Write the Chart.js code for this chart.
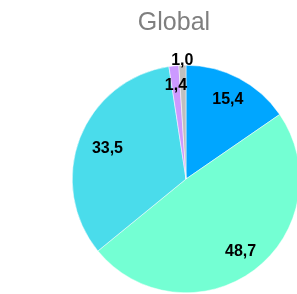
<!DOCTYPE html>
<html>
<head>
<meta charset="utf-8">
<script src="https://cdn.jsdelivr.net/npm/chart.js@4"></script>
<style>
  html, body { margin: 0; padding: 0; background: #fff; overflow: hidden; }
  #wrap { width: 297px; height: 294px; overflow: hidden; }
</style>
</head>
<body>
<div id="wrap"><canvas id="pie" width="346" height="310"></canvas></div>
<script>
// values, clockwise from the top
const categories = ['A', 'B', 'C', 'D', 'E'];
const shares = [15.4, 48.7, 33.5, 1.4, 1.0];
const sliceColors = ['#00a6ff', '#74ffd3', '#4adceb', '#cc99ff', '#bfbfbf'];
const chartTitle = 'Global';

// how far out each label sits (fraction of the radius)
const labelR = [0.79, 0.8, 0.74, 0.83, 1.04];

// title sits left of the pie centre, so it is drawn by hand
const titlePlugin = {
    id: 'titlePlugin',
    afterDraw(chart) {
        let ctx = chart.ctx;
        ctx.save();
        ctx.font = '25px "Liberation Sans", Arial, sans-serif';
        ctx.fillStyle = '#7f7f7f';
        ctx.textAlign = 'center';
        ctx.textBaseline = 'alphabetic';
        ctx.fillText(chartTitle, 174, 30);
        ctx.restore();
    }
};

const pieLabels = {
    id: 'pieLabels',
    afterDatasetsDraw(chart) {
        let ctx = chart.ctx;
        let meta = chart.getDatasetMeta(0);
        ctx.save();
        ctx.font = 'bold 16px "Liberation Sans", Arial, sans-serif';
        ctx.fillStyle = '#000';
        ctx.textAlign = 'center';
        ctx.textBaseline = 'middle';
        meta.data.forEach(function (arc, i) {
            let p = arc.getProps(['x', 'y', 'startAngle', 'endAngle', 'outerRadius'], true);
            let a = (p.startAngle + p.endAngle) / 2;
            let r = p.outerRadius * labelR[i];
            let txt = shares[i].toFixed(1).replace('.', ',');
            ctx.fillText(txt, p.x + Math.cos(a) * r, p.y + Math.sin(a) * r);
        });
        ctx.restore();
    }
};

let ctx = document.getElementById('pie').getContext('2d');
new Chart(ctx, {
    type: 'pie',
    data: {
        labels: categories,
        datasets: [{
            data: shares,
            backgroundColor: sliceColors,
            borderColor: '#ffffff',
            borderWidth: 0.5
        }]
    },
    options: {
        responsive: false,
        animation: false,
        devicePixelRatio: 1,
        layout: { padding: { left: 72, right: 46, top: 65, bottom: 17 } },
        plugins: {
            legend: { display: false },
            tooltip: { enabled: false },
            title: { display: false }
        }
    },
    plugins: [pieLabels, titlePlugin]
});
</script>
</body>
</html>
